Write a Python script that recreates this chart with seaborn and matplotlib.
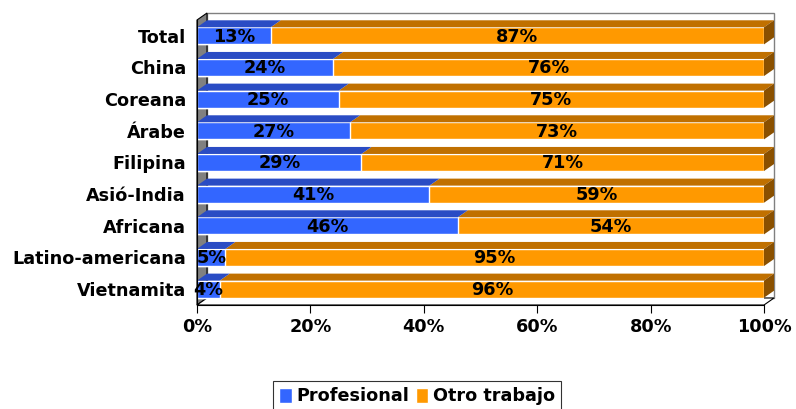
import numpy as np
import pandas as pd
import matplotlib.pyplot as plt
import seaborn as sns
from matplotlib.patches import Polygon, Patch

# data (% of workers)
grupos = ['Total', 'China', 'Coreana', 'Árabe', 'Filipina', 'Asió-India',
          'Africana', 'Latino-americana', 'Vietnamita']
profesional = [13, 24, 25, 27, 29, 41, 46, 5, 4]
otro_trabajo = [87, 76, 75, 73, 71, 59, 54, 95, 96]

df = pd.DataFrame({'grupo': grupos, 'Profesional': profesional, 'Otro trabajo': otro_trabajo})
df['total'] = df['Profesional'] + df['Otro trabajo']

sns.set_style('white')
plt.rcParams['font.family'] = ['DejaVu Sans']
plt.rcParams['text.color'] = 'black'
plt.rcParams['xtick.color'] = 'black'
plt.rcParams['ytick.color'] = 'black'
plt.rcParams['xtick.labelcolor'] = 'black'
plt.rcParams['ytick.labelcolor'] = 'black'

blue, blue_top = '#3366ff', '#2a4cc4'
orange, orange_top, orange_side = '#ff9900', '#c07000', '#8a5000'
fsize = 12.7

fig = plt.figure(figsize=(7.96, 4.09), dpi=100)
ax = fig.add_axes([197 / 796, 104 / 409, 567 / 796, 285 / 409])

bw = 0.54
sns.barplot(data=df, y='grupo', x='total', color=orange, width=bw, orient='h',
            saturation=1, ax=ax, zorder=3)
sns.barplot(data=df, y='grupo', x='Profesional', color=blue, width=bw, orient='h',
            saturation=1, ax=ax, zorder=4)

n = len(grupos)
ax.set_xlim(0, 100)
ax.set_ylim(n - 0.5, -0.5)

# 3d depth in data units
dx = 10 / 567 * 100
dy = 7 / 285 * n

# walls and floor
ax.add_patch(Polygon([(dx, -0.5 - dy), (100 + dx, -0.5 - dy), (100 + dx, n - 0.5 - dy),
                      (dx, n - 0.5 - dy)], closed=True, facecolor='white',
                     edgecolor='#808080', lw=1, clip_on=False, zorder=0))
ax.add_patch(Polygon([(0, -0.5), (dx, -0.5 - dy), (dx, n - 0.5 - dy), (0, n - 0.5)],
                     closed=True, facecolor='#808080', edgecolor='black', lw=0.8,
                     clip_on=False, zorder=1))
ax.add_patch(Polygon([(0, n - 0.5), (100, n - 0.5), (100 + dx, n - 0.5 - dy),
                      (dx, n - 0.5 - dy)], closed=True, facecolor='white',
                     edgecolor='black', lw=0.8, clip_on=False, zorder=1))

# top and side faces of the bars
for i in range(n):
    yt = i - bw / 2
    yb = i + bw / 2
    p = profesional[i]
    t = profesional[i] + otro_trabajo[i]
    ax.add_patch(Polygon([(p, yt), (t, yt), (t + dx, yt - dy), (p + dx, yt - dy)],
                         closed=True, facecolor=orange_top, lw=0, clip_on=False, zorder=3))
    ax.add_patch(Polygon([(0, yt), (p, yt), (p + dx, yt - dy), (dx, yt - dy)],
                         closed=True, facecolor=blue_top, lw=0, clip_on=False, zorder=4))
    ax.add_patch(Polygon([(t, yt), (t + dx, yt - dy), (t + dx, yb - dy), (t, yb)],
                         closed=True, facecolor=orange_side, lw=0, clip_on=False, zorder=3))
    ax.text(p / 2, i + 0.03, f'{p}%', ha='center', va='center', fontsize=fsize,
            fontweight='bold', zorder=6)
    ax.text(p + otro_trabajo[i] / 2, i + 0.03, f'{otro_trabajo[i]}%', ha='center',
            va='center', fontsize=fsize, fontweight='bold', zorder=6)

# axes styling
for s in ['top', 'right']:
    ax.spines[s].set_visible(False)
for s in ['left', 'bottom']:
    ax.spines[s].set_color('black')
    ax.spines[s].set_linewidth(0.8)
    ax.spines[s].set_zorder(5)

ax.set_xlabel('')
ax.set_ylabel('')
ax.set_xticks([0, 20, 40, 60, 80, 100])
ax.set_xticklabels([f'{v}%' for v in [0, 20, 40, 60, 80, 100]], fontsize=fsize,
                   fontweight='bold')
ax.set_yticks(range(n))
ax.set_yticklabels(grupos, fontsize=fsize, fontweight='bold')
ax.set_yticks(np.arange(-0.5, n, 1), minor=True)
ax.tick_params(axis='y', which='major', length=0, pad=8)
ax.tick_params(axis='y', which='minor', length=6, width=0.8, color='black', direction='out')
ax.tick_params(axis='x', which='major', length=6, width=0.8, color='black', direction='out', pad=3)
ax.tick_params(axis='both', left=True, bottom=True)

# legend
handles = [Patch(facecolor=blue, label='Profesional'), Patch(facecolor=orange, label='Otro trabajo')]
leg = fig.legend(handles=handles, loc='upper center', bbox_to_anchor=(0.524, 0.068), ncol=2,
                 frameon=True, fancybox=False, edgecolor='black', handlelength=0.7,
                 handleheight=0.9, handletextpad=0.25, columnspacing=0.4, borderpad=0.35,
                 borderaxespad=0, prop={'size': fsize, 'weight': 'bold'})
leg.get_frame().set_linewidth(0.8)

fig.savefig('out.png', dpi=100)
